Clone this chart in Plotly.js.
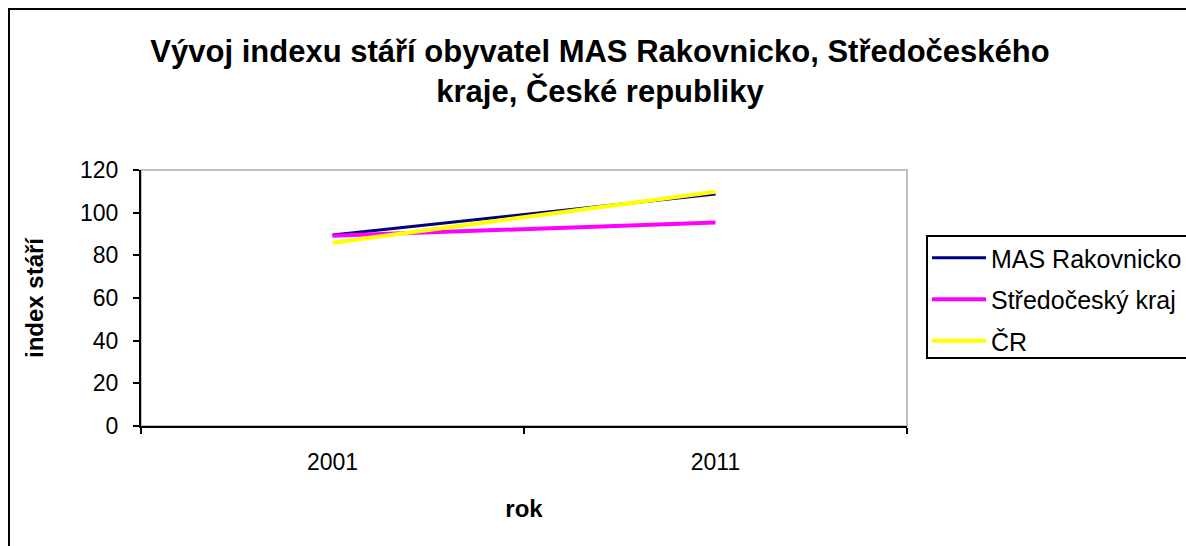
<!DOCTYPE html>
<html>
<head>
<meta charset="utf-8">
<script src="https://cdn.plot.ly/plotly-3.0.1.min.js"></script>
<style>
html,body{margin:0;padding:0;background:#fff;overflow:hidden;}
#chart{width:1186px;height:546px;}
</style>
</head>
<body>
<div id="chart"></div>
<script>
const years = ['2001', '2011'];
const masRakovnicko = [89.5, 108.7];
const stredocesky = [89.2, 95.4];
const cr = [85.9, 109.8];
const yTicks = [0, 20, 40, 60, 80, 100, 120];

const FONT = 'Liberation Sans, Arial, sans-serif';

const traces = [
  {x: years, y: masRakovnicko, name: 'MAS Rakovnicko', type: 'scatter', mode: 'lines',
   line: {color: '#000080', width: 3}, legendgroup: 'a'},
  {x: years, y: stredocesky, name: 'Středočeský kraj', type: 'scatter', mode: 'lines',
   line: {color: '#FF00FF', width: 4}, legendgroup: 'b'},
  {x: years, y: cr, name: 'ČR', type: 'scatter', mode: 'lines',
   line: {color: '#FFFF00', width: 4}, legendgroup: 'c'}
];

const L = 141, R = 907, T = 170, B = 426;
const px = v => (v - L) / (R - L);
const py = v => (B - v) / (B - T);

const layout = {
  width: 1186, height: 546,
  margin: {l: L, r: 1186 - R, t: T, b: 546 - B, pad: 0, autoexpand: false},
  paper_bgcolor: '#ffffff', plot_bgcolor: '#ffffff',
  font: {family: FONT, size: 23, color: '#000'},
  title: {
    text: '<b>Vývoj indexu stáří obyvatel MAS Rakovnicko, Středočeského<br>kraje, České republiky</b>',
    font: {family: FONT, size: 31, color: '#000'},
    xref: 'container', x: 600 / 1186, xanchor: 'center',
    yref: 'container', y: 1 - 62 / 546, yanchor: 'top'
  },
  xaxis: {
    type: 'category', range: [-0.5, 1.5], tickson: 'boundaries',
    showline: true, linecolor: '#000', linewidth: 2,
    ticks: 'outside', ticklen: 6, tickwidth: 2, tickcolor: '#000',
    ticklabelstandoff: 14,
    showgrid: false, zeroline: false,
    tickfont: {family: FONT, size: 23, color: '#000'},
    title: {text: '<b>rok</b>', font: {family: FONT, size: 24, color: '#000'}, standoff: 27}
  },
  yaxis: {
    range: [0, 120], tickvals: yTicks, ticktext: yTicks.map(String),
    showline: true, linecolor: '#000', linewidth: 2,
    ticks: 'outside', ticklen: 6, tickwidth: 2, tickcolor: '#000',
    ticklabelstandoff: 10,
    showgrid: false, zeroline: false,
    tickfont: {family: FONT, size: 23, color: '#000'},
    title: {text: '<b>index stáří</b>', font: {family: FONT, size: 24, color: '#000'}, standoff: 30}
  },
  legend: {
    x: px(927), y: py(235), xanchor: 'left', yanchor: 'top',
    borderwidth: 0, bgcolor: 'rgba(0,0,0,0)',
    font: {family: FONT, size: 25, color: '#000'},
    tracegroupgap: 6, traceorder: 'grouped', itemwidth: 54
  },
  showlegend: true,
  shapes: [
    {type: 'rect', xref: 'paper', yref: 'paper', x0: 0, x1: 1, y0: 0, y1: 1,
     line: {color: '#c0c0c0', width: 2}, layer: 'below'},
    {type: 'rect', xref: 'paper', yref: 'paper', x0: px(927), x1: px(1220), y0: py(358), y1: py(236),
     line: {color: '#000', width: 2}, fillcolor: 'rgba(0,0,0,0)', layer: 'above'},
    {type: 'rect', xref: 'paper', yref: 'paper', x0: px(9), x1: px(1220), y0: py(580), y1: py(9),
     line: {color: '#000', width: 2}, layer: 'above'}
  ]
};

Plotly.newPlot('chart', traces, layout, {displayModeBar: false, staticPlot: true});
</script>
</body>
</html>
